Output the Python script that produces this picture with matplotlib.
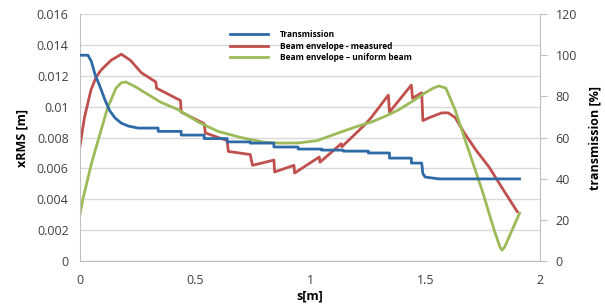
import matplotlib.pyplot as plt

plt.rcParams['font.family'] = ['Open Sans', 'DejaVu Sans']

# transmission [%] (right axis)
s_trans = [0, 0.035, 0.05, 0.065, 0.09, 0.11, 0.13, 0.153, 0.18, 0.21, 0.253, 0.34, 0.34,
           0.44, 0.44, 0.54, 0.54, 0.64, 0.64, 0.74, 0.74, 0.843, 0.843, 0.948, 0.948,
           1.05, 1.05, 1.144, 1.144, 1.253, 1.253, 1.345, 1.345, 1.44, 1.44, 1.485,
           1.49, 1.5, 1.56, 1.91]
trans = [100, 100, 97, 91, 84, 78, 73, 69.5, 67, 65.6, 64.6, 64.6, 63.0,
         63.0, 61.2, 61.2, 59.5, 59.5, 57.9, 57.9, 57.3, 57.3, 55.4, 55.4, 54.4,
         54.4, 53.9, 53.9, 53.4, 53.4, 52.5, 52.5, 50.0, 50.0, 47.6, 47.6,
         42.5, 40.8, 39.9, 39.9]

# beam envelope - measured [m]
s_meas = [0, 0.02, 0.048, 0.07, 0.092, 0.135, 0.18, 0.22, 0.267, 0.33, 0.333, 0.437,
          0.44, 0.54, 0.545, 0.64, 0.645, 0.74, 0.75, 0.843, 0.846, 0.93, 0.933,
          1.04, 1.043, 1.135, 1.138, 1.236, 1.266, 1.34, 1.345, 1.44, 1.445, 1.485,
          1.49, 1.52, 1.572, 1.6, 1.63, 1.67, 1.72, 1.777, 1.84, 1.90]
meas = [0.0074, 0.0093, 0.01107, 0.0119, 0.01237, 0.0130, 0.0134, 0.0130, 0.0122, 0.0116,
        0.0112, 0.0104, 0.00965, 0.0089, 0.0083, 0.0078, 0.0071, 0.0069, 0.0062, 0.00654,
        0.00577, 0.0062, 0.0057, 0.00674, 0.0064, 0.0076, 0.0074, 0.0088, 0.0093,
        0.01075, 0.00965, 0.0114, 0.01055, 0.0109, 0.0091, 0.0093, 0.0096, 0.0096,
        0.0093, 0.0083, 0.0072, 0.0061, 0.0046, 0.0032]

# beam envelope - uniform beam [m]
s_unif = [0, 0.013, 0.05, 0.079, 0.12, 0.157, 0.18, 0.2, 0.24, 0.284, 0.35, 0.428, 0.515,
          0.6, 0.7, 0.8, 0.873, 0.95, 1.03, 1.135, 1.2, 1.266, 1.33, 1.385, 1.45, 1.5,
          1.535, 1.56, 1.59, 1.63, 1.67, 1.747, 1.8, 1.825, 1.834, 1.845, 1.91]
unif = [0.0030, 0.0040, 0.0063, 0.0078, 0.0099, 0.0112, 0.01155, 0.0116, 0.0113, 0.0109,
        0.0103, 0.0098, 0.0090, 0.0084, 0.0080, 0.0077, 0.00764, 0.00765, 0.0078, 0.00836,
        0.0087, 0.0090, 0.0094, 0.0098, 0.0104, 0.0109, 0.0112, 0.01134, 0.0112, 0.0098,
        0.0080, 0.0046, 0.0020, 0.0009, 0.0007, 0.0009, 0.0031]

left_ticks = [0, 0.002, 0.004, 0.006, 0.008, 0.01, 0.012, 0.014, 0.016]
left_labels = ['0', '0.002', '0.004', '0.006', '0.008', '0.01', '0.012', '0.014', '0.016']
right_ticks = [0, 20, 40, 60, 80, 100, 120]
x_ticks = [0, 0.5, 1, 1.5, 2]
x_labels = ['0', '0.5', '1', '1.5', '2']

fig = plt.figure(figsize=(6.05, 3.06), dpi=100)
ax = fig.add_axes([0.132, 0.147, 0.761, 0.807])
ax2 = ax.twinx()

grey = '#bfbfbf'
ax.set_ylim(0, 0.016)
ax.set_xlim(0, 2)
ax.set_yticks(left_ticks)
ax.set_yticklabels(left_labels)
ax.set_xticks(x_ticks)
ax.set_xticklabels(x_labels)
ax.grid(axis='y', color='#d9d9d9', lw=1)
ax.set_axisbelow(True)
ax.tick_params(axis='both', length=0, labelsize=9, colors='#404040')
ax.tick_params(axis='x', pad=9)
ax.tick_params(axis='y', pad=8)
for sp in ['top', 'right']:
    ax.spines[sp].set_visible(False)
for sp in ['left', 'bottom']:
    ax.spines[sp].set_color(grey)

ax2.set_ylim(0, 120)
ax2.set_yticks(right_ticks)
ax2.tick_params(axis='y', length=5, color=grey, labelsize=9, labelcolor='#404040', pad=6)
for sp in ['top', 'left', 'bottom']:
    ax2.spines[sp].set_visible(False)
ax2.spines['right'].set_color(grey)

l1, = ax2.plot(s_trans, trans, color='#2e6aa6', lw=2, label='Transmission')
l2, = ax.plot(s_meas, meas, color='#c0504d', lw=2, label='Beam envelope - measured')
l3, = ax.plot(s_unif, unif, color='#9bbb59', lw=2, label='Beam envelope \u2013 uniform beam')

ax.set_ylabel('xRMS [m]', fontweight='bold', fontsize=9, labelpad=6)
ax2.set_ylabel('transmission [%]', fontweight='bold', fontsize=9, labelpad=8)
ax.set_xlabel('s[m]', fontweight='bold', fontsize=9, labelpad=2)

leg = ax2.legend(handles=[l1, l2, l3], loc='upper left', bbox_to_anchor=(0.31, 0.965),
                 frameon=False, prop={'weight': 'bold', 'size': 6},
                 handlelength=4.5, labelspacing=0.3, handletextpad=1.5)

fig.savefig('out.png', dpi=100)
